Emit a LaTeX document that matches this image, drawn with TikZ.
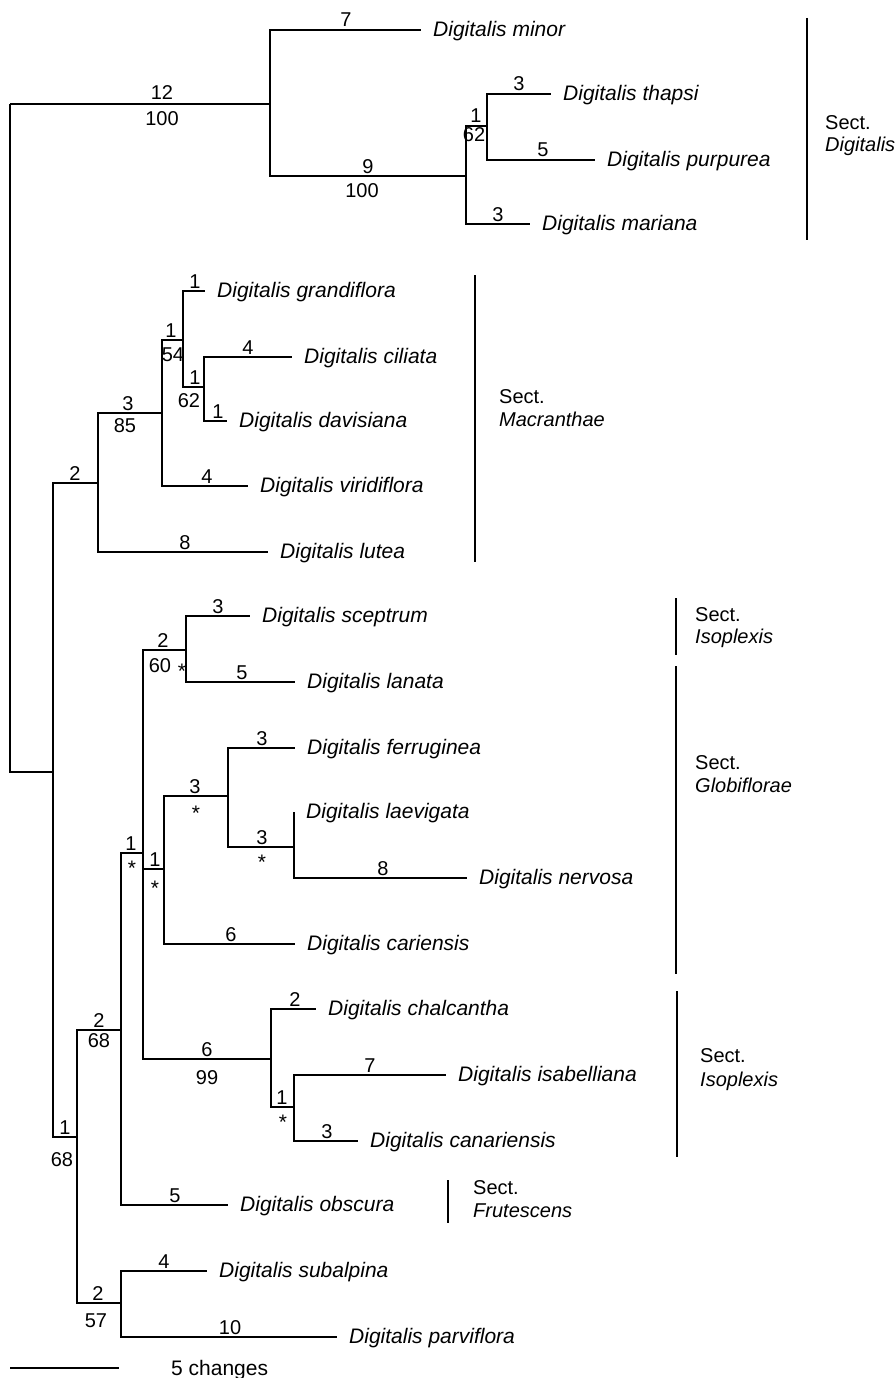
\documentclass[tikz,border=0pt]{standalone}
\usepackage{fontspec}
\setmainfont{Liberation Sans}
\tikzset{
  br/.style={line width=1.2pt},
  bar/.style={line width=1.8pt},
  sp/.style={anchor=west, inner xsep=12pt, inner ysep=0pt, text height=13pt, text depth=0pt, font=\fontsize{21}{21}\selectfont\itshape},
  num/.style={anchor=base, inner sep=0pt, font=\fontsize{20}{20}\selectfont},
  ast/.style={anchor=base, inner sep=0pt, font=\fontsize{21}{21}\selectfont},
  sect/.style={anchor=base west, inner sep=0pt, font=\fontsize{20}{20}\selectfont},
}
\newcommand\nlab[4]{\node[num] (#1) at (#2,#3) {#4};}
\newcommand\alab[3]{\node[ast] (#1) at (#2,#3+2) {*};}
\begin{document}
\begin{tikzpicture}[x=1pt,y=-1pt]
\useasboundingbox (0,0) rectangle (894,1378);
% internal nodes
\coordinate (R) at (10,104);
\coordinate (A) at (270,104);
\coordinate (N9) at (466,176);
\coordinate (N1) at (487,126);
\coordinate (B) at (53,772);
\coordinate (M) at (98,483);
\coordinate (C3) at (162,413);
\coordinate (C1) at (183,340);
\coordinate (C1b) at (204,387);
\coordinate (L) at (77,1137);
\coordinate (O) at (121,1030);
\coordinate (U) at (121,1303);
\coordinate (P) at (143,853);
\coordinate (S2) at (186,650);
\coordinate (Q) at (164,869);
\coordinate (F3) at (228,796);
\coordinate (K) at (294,847);
\coordinate (H) at (271,1059);
\coordinate (I1) at (294,1107);
% species
\node[sp] (minor) at (421,30) {Digitalis minor};
\node[sp] (thapsi) at (551,94) {Digitalis thapsi};
\node[sp] (purpurea) at (595,160) {Digitalis purpurea};
\node[sp] (mariana) at (530,224) {Digitalis mariana};
\node[sp] (grandiflora) at (205,291) {Digitalis grandiflora};
\node[sp] (ciliata) at (292,357) {Digitalis ciliata};
\node[sp] (davisiana) at (227,421) {Digitalis davisiana};
\node[sp] (viridiflora) at (248,486) {Digitalis viridiflora};
\node[sp] (lutea) at (268,552) {Digitalis lutea};
\node[sp] (sceptrum) at (250,616) {Digitalis sceptrum};
\node[sp] (lanata) at (295,682) {Digitalis lanata};
\node[sp] (ferruginea) at (295,748) {Digitalis ferruginea};
\node[sp] (laevigata) at (294,812) {Digitalis laevigata};
\node[sp] (nervosa) at (467,878) {Digitalis nervosa};
\node[sp] (cariensis) at (295,944) {Digitalis cariensis};
\node[sp] (chalcantha) at (316,1009) {Digitalis chalcantha};
\node[sp] (isabelliana) at (446,1075) {Digitalis isabelliana};
\node[sp] (canariensis) at (358,1141) {Digitalis canariensis};
\node[sp] (obscura) at (228,1205) {Digitalis obscura};
\node[sp] (subalpina) at (207,1271) {Digitalis subalpina};
\node[sp] (parviflora) at (337,1337) {Digitalis parviflora};
% branches
\draw[br] (R) -- (A);
\draw[br] (R) |- (B);
\draw[br] (A) |- (minor.west);
\draw[br] (A) |- (N9);
\draw[br] (N9) |- (N1);
\draw[br] (N9) |- (mariana.west);
\draw[br] (N1) |- (thapsi.west);
\draw[br] (N1) |- (purpurea.west);
\draw[br] (B) |- (M);
\draw[br] (B) |- (L);
\draw[br] (M) |- (C3);
\draw[br] (M) |- (lutea.west);
\draw[br] (C3) |- (C1);
\draw[br] (C3) |- (viridiflora.west);
\draw[br] (C1) |- (grandiflora.west);
\draw[br] (C1) |- (C1b);
\draw[br] (C1b) |- (ciliata.west);
\draw[br] (C1b) |- (davisiana.west);
\draw[br] (L) |- (O);
\draw[br] (L) |- (U);
\draw[br] (O) |- (P);
\draw[br] (O) |- (obscura.west);
\draw[br] (P) |- (S2);
\draw[br] (P) |- (Q);
\draw[br] (P) |- (H);
\draw[br] (S2) |- (sceptrum.west);
\draw[br] (S2) |- (lanata.west);
\draw[br] (Q) |- (F3);
\draw[br] (Q) |- (cariensis.west);
\draw[br] (F3) |- (ferruginea.west);
\draw[br] (F3) |- (K);
\draw[br] (K) |- (laevigata.west);
\draw[br] (K) |- (nervosa.west);
\draw[br] (H) |- (chalcantha.west);
\draw[br] (H) |- (I1);
\draw[br] (I1) |- (isabelliana.west);
\draw[br] (I1) |- (canariensis.west);
\draw[br] (U) |- (subalpina.west);
\draw[br] (U) |- (parviflora.west);
% branch labels
\nlab{a1}{162}{100}{12}
\nlab{a2}{162}{126}{100}
\nlab{a3}{346}{27}{7}
\nlab{a4}{368}{173}{9}
\nlab{a5}{362}{197}{100}
\nlab{a6}{476}{123}{1}
\nlab{a7}{474}{142}{62}
\nlab{a8}{519}{91}{3}
\nlab{a9}{543}{157}{5}
\nlab{a10}{498}{221}{3}
\nlab{b1}{75}{480}{2}
\nlab{b2}{128}{410}{3}
\nlab{b3}{125}{432}{85}
\nlab{b4}{171}{337}{1}
\nlab{b5}{173}{361}{54}
\nlab{b6}{195}{288}{1}
\nlab{b7}{195}{384}{1}
\nlab{b8}{189}{407}{62}
\nlab{b9}{248}{354}{4}
\nlab{b10}{218}{418}{1}
\nlab{b11}{207}{483}{4}
\nlab{b12}{185}{549}{8}
\nlab{c1}{163}{647}{2}
\nlab{c2}{160}{672}{60}
\alab{c3}{182}{676}
\nlab{c4}{218}{613}{3}
\nlab{c5}{242}{679}{5}
\nlab{c6}{131}{850}{1}
\alab{c7}{132}{873}
\nlab{c8}{155}{866}{1}
\alab{c9}{155}{893}
\nlab{c10}{195}{793}{3}
\alab{c11}{196}{818}
\nlab{c12}{262}{745}{3}
\nlab{c13}{262}{844}{3}
\alab{c14}{262}{867}
\nlab{c15}{383}{875}{8}
\nlab{c16}{231}{941}{6}
\nlab{d1}{207}{1056}{6}
\nlab{d2}{207}{1084}{99}
\nlab{d3}{295}{1006}{2}
\nlab{d4}{282}{1104}{1}
\alab{d5}{283}{1127}
\nlab{d6}{370}{1072}{7}
\nlab{d7}{327}{1138}{3}
\nlab{d8}{99}{1027}{2}
\nlab{d9}{99}{1047}{68}
\nlab{d10}{175}{1202}{5}
\nlab{d11}{65}{1134}{1}
\nlab{d12}{62}{1166}{68}
\nlab{d13}{98}{1300}{2}
\nlab{d14}{96}{1327}{57}
\nlab{d15}{164}{1268}{4}
\nlab{d16}{230}{1334}{10}
% section bars
\coordinate (g1a) at (807,18); \coordinate (g1b) at (807,240);
\draw[bar] (g1a) -- (g1b);
\node[sect] (s1a) at (825,130) {Sect.};
\node[sect] (s1b) at (825,151) {\itshape Digitalis};
\coordinate (g2a) at (475,275); \coordinate (g2b) at (475,562);
\draw[bar] (g2a) -- (g2b);
\node[sect] (s2a) at (499,403) {Sect.};
\node[sect] (s2b) at (499,426) {\itshape Macranthae};
\coordinate (g3a) at (676,598); \coordinate (g3b) at (676,655);
\draw[bar] (g3a) -- (g3b);
\node[sect] (s3a) at (695,621) {Sect.};
\node[sect] (s3b) at (695,643) {\itshape Isoplexis};
\coordinate (g4a) at (676,666); \coordinate (g4b) at (676,974);
\draw[bar] (g4a) -- (g4b);
\node[sect] (s4a) at (695,769) {Sect.};
\node[sect] (s4b) at (695,792) {\itshape Globiflorae};
\coordinate (g5a) at (677,991); \coordinate (g5b) at (677,1157);
\draw[bar] (g5a) -- (g5b);
\node[sect] (s5a) at (700,1062) {Sect.};
\node[sect] (s5b) at (700,1086) {\itshape Isoplexis};
\coordinate (g6a) at (448,1180); \coordinate (g6b) at (448,1223);
\draw[bar] (g6a) -- (g6b);
\node[sect] (s6a) at (473,1194) {Sect.};
\node[sect] (s6b) at (473,1217) {\itshape Frutescens};
% scale bar
\coordinate (sc0) at (10,1368); \coordinate (sc1) at (119,1368);
\draw[br] (sc0) -- (sc1);
\node[sect, font=\fontsize{21}{21}\selectfont] (scl) at (171,1375) {5 changes};
\end{tikzpicture}
\end{document}
